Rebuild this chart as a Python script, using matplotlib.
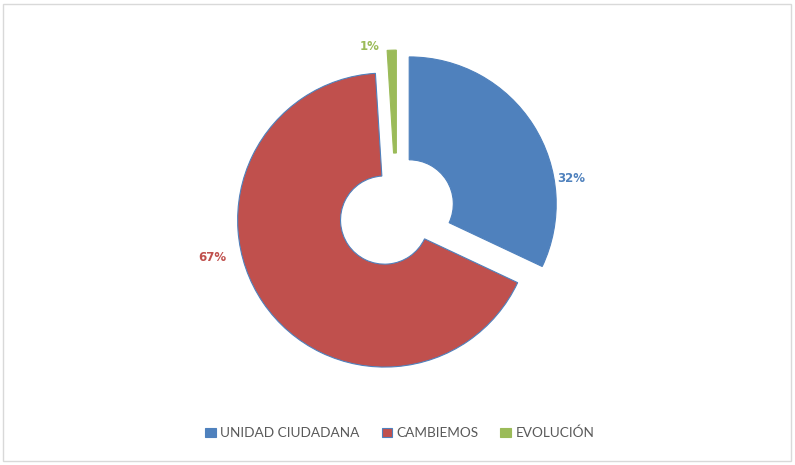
import numpy as np
import matplotlib.pyplot as plt
from matplotlib.patches import Rectangle

labels = ["UNIDAD CIUDADANA", "CAMBIEMOS", "EVOLUCIÓN"]
shares = [32, 67, 1]
pct_text = ["32%", "67%", "1%"]
colors = ["#4F81BD", "#C0504D", "#9BBB59"]
edges = ["#4F81BD", "#4F81BD", "#9BBB59"]

# label placement (angle in degrees, distance in radii) - layout only
lab_ang = [10.7, 193.8, 99.2]
lab_dist = [1.21, 1.29, 1.14]

W, H = 795, 465
cx, cy, R = 396.8, 211.8, 147.0

plt.rcParams['font.family'] = ['Lato', 'DejaVu Sans']
fig = plt.figure(figsize=(W / 100, H / 100), dpi=100)
ax = fig.add_axes([0, 0, 1, 1])
ax.axis('off')

wedges, _ = ax.pie(shares, colors=colors, startangle=90, counterclock=False,
                   explode=[0.1, 0.1, 0.1], radius=1,
                   wedgeprops=dict(width=0.7, linewidth=0.8))
for w, e in zip(wedges, edges):
    w.set_edgecolor(e)
ax.set_xlim(-cx / R, (W - cx) / R)
ax.set_ylim(-(H - cy) / R, cy / R)
ax.set_aspect('auto')

for t, c, a, d in zip(pct_text, colors, lab_ang, lab_dist):
    ax.text(d * np.cos(np.radians(a)), d * np.sin(np.radians(a)), t,
            color=c, fontsize=8.5, fontweight='bold', ha='center', va='center',
            family='DejaVu Sans')

leg = fig.legend(wedges, labels, loc='center', bbox_to_anchor=(0.503, 1 - 433 / H),
                 ncol=3, frameon=False, fontsize=9.8, handlelength=0.75,
                 handleheight=0.75, handletextpad=0.35, columnspacing=1.6)
for txt in leg.get_texts():
    txt.set_color("#595959")

fig.patches.append(Rectangle((3 / W, 4 / H), 788 / W, 457 / H, transform=fig.transFigure,
                             fill=False, edgecolor="#D9D9D9", linewidth=1))

fig.savefig("out.png", dpi=100)
